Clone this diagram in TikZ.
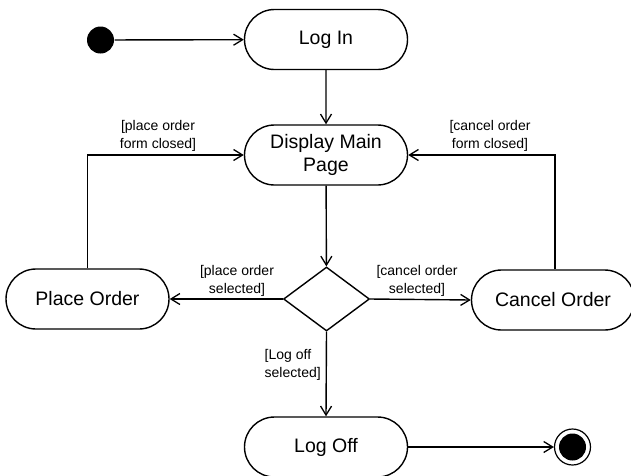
\documentclass[tikz,border=0pt]{standalone}
\usepackage{fontspec}
\setmainfont{Liberation Sans}
\usetikzlibrary{shapes.misc,shapes.geometric,arrows.meta}
\begin{document}
\begin{tikzpicture}[x=1pt,y=-1pt,
  line width=1.4pt,
  >={Straight Barb[length=9pt,width=11pt,line width=1.3pt]},
  act/.style={rounded rectangle, draw, minimum width=163pt, minimum height=60pt, inner sep=0pt,
    font=\fontsize{19.5}{23}\selectfont, align=center},
  guard/.style={font=\fontsize{14}{18}\selectfont, align=center, inner sep=0pt},
  flow/.style={->}]
\useasboundingbox (0,0) rectangle (631,475);
\node[circle, fill=black, minimum size=27pt, inner sep=0pt] (init) at (100.5,40) {};
\node[act] (login) at (326,39.5) {Log In};
\node[act] (display) at (326,155) {Display Main\\Page};
\node[act] (place) at (87.5,299) {Place Order};
\node[act] (cancel) at (553,300) {Cancel Order};
\node[diamond, draw, minimum width=86pt, minimum height=64pt, inner sep=0pt] (dec) at (326.5,299) {};
\node[act] (logoff) at (326,447) {Log Off};
\node[circle, draw, minimum size=36pt, inner sep=0pt, line width=1.2pt] (final) at (572.5,447) {};
\node[circle, fill=black, minimum size=27pt, inner sep=0pt] (finalin) at (final.center) {};

\draw[flow] (init) -- (login);
\draw[flow] (login) -- (display);
\draw[flow] (place.north) |- (display.west);
\draw[flow] (cancel.north -| 555,0) |- (display.east);
\draw[flow] (display) -- (dec);
\draw[flow] (dec.west) -- (place.east);
\draw[flow] (dec.east) -- (cancel.west);
\draw[flow] (dec.south) -- (logoff.north);
\draw[flow] (logoff.east) -- (final.west);

\node[guard] (g1) at (158,136) {[place order\\form closed]};
\node[guard] (g2) at (490,136) {[cancel order\\form closed]};
\node[guard] (g3) at (237,280.5) {[place order\\selected]};
\node[guard] (g4) at (417,280.5) {[cancel order\\selected]};
\node[guard, align=left, anchor=west] (g5) at (264,364.5) {[Log off\\selected]};
\end{tikzpicture}
\end{document}
